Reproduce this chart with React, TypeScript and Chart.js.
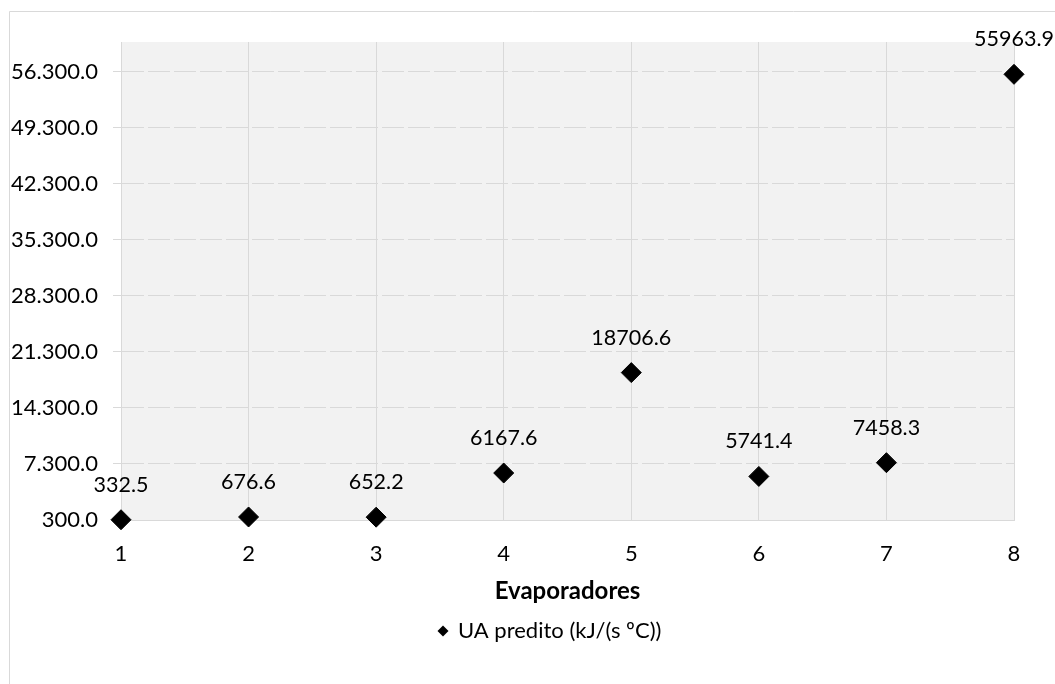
import React, { useEffect, useRef } from "react";
import { Chart, registerables } from "chart.js";

Chart.register(...registerables);

const categories: number[] = [1, 2, 3, 4, 5, 6, 7, 8];
const uaValues: number[] = [332.5, 676.6, 652.2, 6167.6, 18706.6, 5741.4, 7458.3, 55963.9];
const yTickValues: number[] = [300, 7300, 14300, 21300, 28300, 35300, 42300, 49300, 56300];
const seriesLabel = "UA predito (kJ/(s ºC))";
const xTitle = "Evaporadores";

const FONT = "Lato, 'Open Sans', sans-serif";
const FONT_SIZE = 22;
const GRID = "#d9d9d9";

function fmtTick(v: number): string {
  const s = Math.round(v).toString().replace(/\B(?=(\d{3})+(?!\d))/g, ".");
  return s + ".0";
}

const decorPlugin = {
  id: "decor",
  beforeDraw(chart: any) {
    const { ctx, chartArea } = chart;
    ctx.save();
    ctx.fillStyle = "#ffffff";
    ctx.fillRect(0, 0, chart.width, chart.height);
    ctx.strokeStyle = GRID;
    ctx.lineWidth = 1;
    ctx.beginPath();
    ctx.moveTo(9.5, chart.height);
    ctx.lineTo(9.5, 11.5);
    ctx.lineTo(chart.width, 11.5);
    ctx.stroke();
    ctx.fillStyle = "#f2f2f2";
    ctx.fillRect(chartArea.left, chartArea.top, chartArea.right - chartArea.left, chartArea.bottom - chartArea.top);
    ctx.restore();
  },
  afterDatasetsDraw(chart: any) {
    const { ctx, chartArea } = chart;
    const meta = chart.getDatasetMeta(0);
    ctx.save();
    ctx.fillStyle = "#000000";
    ctx.font = `${FONT_SIZE - 0.5}px ${FONT}`;
    ctx.textAlign = "center";
    ctx.textBaseline = "middle";
    meta.data.forEach((pt: any, i: number) => {
      ctx.fillText(uaValues[i].toFixed(1), pt.x, pt.y - 35);
    });
    const cx = (chartArea.left + chartArea.right) / 2;
    ctx.font = `bold 24px ${FONT}`;
    ctx.fillText(xTitle, cx, 591);
    ctx.font = `${FONT_SIZE}px ${FONT}`;
    ctx.textAlign = "left";
    const lx = 443;
    const ly = 631;
    ctx.beginPath();
    ctx.moveTo(lx, ly - 5.5);
    ctx.lineTo(lx + 5.5, ly);
    ctx.lineTo(lx, ly + 5.5);
    ctx.lineTo(lx - 5.5, ly);
    ctx.closePath();
    ctx.fill();
    ctx.fillText(seriesLabel, 458, ly);
    ctx.restore();
  },
};

export default function App() {
  const ref = useRef<HTMLCanvasElement | null>(null);
  useEffect(() => {
    if (!ref.current) return;
    const chart = new Chart(ref.current, {
      type: "scatter",
      data: {
        datasets: [
          {
            label: seriesLabel,
            data: categories.map((c, i) => ({ x: c, y: uaValues[i] })),
            pointStyle: "rectRot",
            pointRadius: 10,
            pointHoverRadius: 10,
            backgroundColor: "#000000",
            borderColor: "#000000",
            borderWidth: 1,
            showLine: false,
            clip: false,
          },
        ],
      },
      options: {
        responsive: false,
        animation: false,
        devicePixelRatio: 1,
        layout: { padding: { left: 9, top: 42, right: 41, bottom: 0 } },
        plugins: {
          legend: { display: false },
          tooltip: { enabled: false },
        },
        scales: {
          x: {
            type: "linear",
            min: 1,
            max: 8,
            afterFit: (s: any) => {
              s.height = 164;
            },
            ticks: {
              stepSize: 1,
              padding: 21,
              color: "#000000",
              font: { family: FONT, size: FONT_SIZE },
            },
            grid: { color: GRID, drawTicks: false, lineWidth: 1 },
            border: { display: true, color: GRID },
          },
          y: {
            type: "linear",
            min: 300,
            max: 60000,
            afterFit: (s: any) => {
              s.width = 112;
            },
            afterBuildTicks: (s: any) => {
              s.ticks = yTickValues.map((v) => ({ value: v }));
            },
            ticks: {
              padding: 15,
              color: "#000000",
              font: { family: FONT, size: FONT_SIZE },
              callback: (v: any) => fmtTick(Number(v)),
            },
            grid: {
              color: GRID,
              lineWidth: 1,
              drawTicks: true,
              tickLength: 8,
              tickColor: GRID,
              tickBorderDash: [],
            },
            border: { display: true, color: GRID, dash: [22, 4] },
          },
        },
      },
      plugins: [decorPlugin],
    } as any);
    return () => chart.destroy();
  }, []);
  return (
    <div style={{ position: "fixed", left: 0, top: 0, width: 1055, height: 684, background: "#fff" }}>
      <canvas ref={ref} width={1055} height={684} style={{ display: "block" }} />
    </div>
  );
}
